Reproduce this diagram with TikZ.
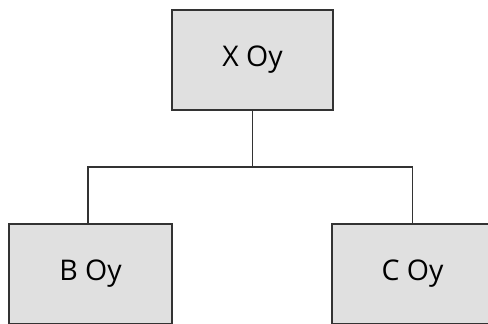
\documentclass[tikz,border=0pt]{standalone}
\usepackage{fontspec}
\setmainfont{Open Sans}
\begin{document}
\begin{tikzpicture}[x=1pt,y=1pt,
  box/.style={draw=black!80, fill=black!12, line width=1.6pt, inner sep=0pt,
    font=\fontsize{28.5}{32}\selectfont, text=black},
  link/.style={draw=black!80, line width=1.6pt}]
\useasboundingbox (0,0) rectangle (488,324);
\clip (0,0) rectangle (488,324);
\node[box, minimum width=161pt, minimum height=100pt] (x) at (252.5,264) {X Oy};
\node[box, minimum width=163pt, minimum height=100pt] (b) at (90.5,50) {B Oy};
\node[box, minimum width=161pt, minimum height=100pt] (c) at (412.5,50) {C Oy};
\coordinate (j) at ([yshift=-56pt]x.south);
\draw[link] (x.south) -- (j);
\draw[link] (j) -| ([xshift=-2.5pt]b.north);
\draw[link] (j) -| (c.north);
\end{tikzpicture}
\end{document}
